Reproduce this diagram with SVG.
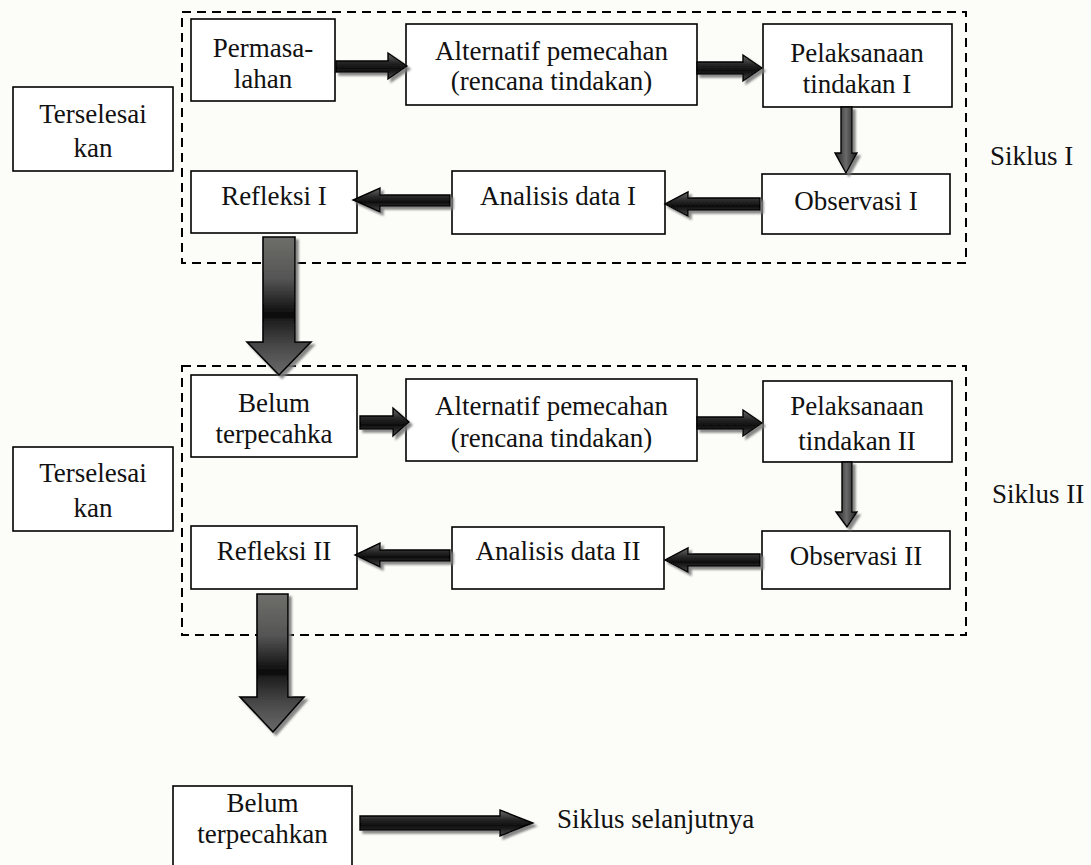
<svg xmlns="http://www.w3.org/2000/svg" width="1091" height="865" viewBox="0 0 1091 865">
<defs>
<style>
.box{fill:#ffffff;stroke:#000;stroke-width:1.6}
.cyc{fill:none;stroke:#000;stroke-width:2;stroke-dasharray:9,6}
.t{font-family:"Liberation Serif","Times New Roman",serif;font-size:27px;fill:#111}
.m{text-anchor:middle}
.ah{fill:url(#gh);stroke:#000;stroke-width:1.4;filter:url(#sh)}
.av{fill:url(#gv);stroke:#000;stroke-width:1.4;filter:url(#sh)}
.ab{fill:url(#gb);stroke:#000;stroke-width:1.6;filter:url(#sh)}
</style>
<linearGradient id="gh" x1="0" y1="0" x2="0" y2="1">
<stop offset="0" stop-color="#6a6a6a"/>
<stop offset="0.35" stop-color="#2a2a2a"/>
<stop offset="0.6" stop-color="#0d0d0d"/>
<stop offset="1" stop-color="#4a4a4a"/>
</linearGradient>
<linearGradient id="gv" x1="0" y1="0" x2="1" y2="0">
<stop offset="0" stop-color="#222"/>
<stop offset="0.5" stop-color="#6a6a6a"/>
<stop offset="1" stop-color="#1a1a1a"/>
</linearGradient>
<linearGradient id="gb" x1="0" y1="0" x2="0" y2="1">
<stop offset="0" stop-color="#6e6e6a"/>
<stop offset="0.3" stop-color="#555"/>
<stop offset="0.58" stop-color="#080808"/>
<stop offset="0.6" stop-color="#1e1e1e"/>
<stop offset="0.8" stop-color="#4a4a4a"/>
<stop offset="1" stop-color="#6a6a6a"/>
</linearGradient>
<filter id="sh" x="-20%" y="-20%" width="150%" height="150%">
<feDropShadow dx="3" dy="3" stdDeviation="0.8" flood-color="#7a7a7a" flood-opacity="0.9"/>
</filter>
</defs>
<rect x="0" y="0" width="1091" height="865" fill="#fcfcf8"/>

<g id="cycle1">
<rect class="cyc" x="182" y="12" width="784" height="251"/>
<text class="t" x="990" y="165">Siklus I</text>
</g>
<g id="cycle2">
<rect class="cyc" x="182" y="366" width="784" height="269"/>
<text class="t" x="992" y="503">Siklus II</text>
</g>

<g id="terselesaikan1">
<rect class="box" x="13" y="87" width="160" height="84"/>
<text class="t m" x="93" y="123">Terselesai</text>
<text class="t m" x="93" y="157">kan</text>
</g>
<g id="permasalahan">
<rect class="box" x="191" y="19" width="144" height="82"/>
<text class="t m" x="263" y="57">Permasa-</text>
<text class="t m" x="263" y="88">lahan</text>
</g>
<g id="alternatif1">
<rect class="box" x="406" y="24" width="291" height="81"/>
<text class="t m" x="551.5" y="60">Alternatif pemecahan</text>
<text class="t m" x="551.5" y="90">(rencana tindakan)</text>
</g>
<g id="pelaksanaan1">
<rect class="box" x="763" y="24" width="189" height="83"/>
<text class="t m" x="857" y="62">Pelaksanaan</text>
<text class="t m" x="857" y="93">tindakan I</text>
</g>
<g id="observasi1">
<rect class="box" x="762" y="174" width="188" height="60"/>
<text class="t m" x="856" y="210">Observasi I</text>
</g>
<g id="analisis1">
<rect class="box" x="452" y="171" width="213" height="63"/>
<text class="t m" x="558" y="205">Analisis data I</text>
</g>
<g id="refleksi1">
<rect class="box" x="191" y="171" width="166" height="62"/>
<text class="t m" x="274" y="205">Refleksi I</text>
</g>

<g id="terselesaikan2">
<rect class="box" x="13" y="447" width="160" height="84"/>
<text class="t m" x="93" y="482">Terselesai</text>
<text class="t m" x="93" y="517">kan</text>
</g>
<g id="belum1">
<rect class="box" x="191" y="375" width="166" height="82"/>
<text class="t m" x="274" y="412">Belum</text>
<text class="t m" x="274" y="443">terpecahka</text>
</g>
<g id="alternatif2">
<rect class="box" x="406" y="379" width="291" height="82"/>
<text class="t m" x="551.5" y="415">Alternatif pemecahan</text>
<text class="t m" x="551.5" y="447">(rencana tindakan)</text>
</g>
<g id="pelaksanaan2">
<rect class="box" x="763" y="381" width="189" height="81"/>
<text class="t m" x="857" y="415">Pelaksanaan</text>
<text class="t m" x="857" y="450">tindakan II</text>
</g>
<g id="observasi2">
<rect class="box" x="762" y="531" width="188" height="58"/>
<text class="t m" x="856" y="565">Observasi II</text>
</g>
<g id="analisis2">
<rect class="box" x="452" y="527" width="212" height="62"/>
<text class="t m" x="558" y="560">Analisis data II</text>
</g>
<g id="refleksi2">
<rect class="box" x="191" y="526" width="166" height="63"/>
<text class="t m" x="274" y="560">Refleksi II</text>
</g>

<g id="belum2">
<rect class="box" x="173" y="786" width="179" height="90"/>
<text class="t m" x="262.5" y="812">Belum</text>
<text class="t m" x="262.5" y="843">terpecahkan</text>
</g>
<g id="selanjutnya">
<text class="t" x="557" y="828">Siklus selanjutnya</text>
</g>

<g id="connectors">
<polygon class="ah" points="336,61 388,61 388,53 407,66 388,79 388,72 336,72"/>
<polygon class="ah" points="697,62 743,62 743,55 762,68 743,81 743,74 697,74"/>
<polygon class="av" points="841,107 852,107 852,153 857,153 846,173 835,153 841,153"/>
<polygon class="ah" points="760,198 688,198 688,192 665,204 688,216 688,210 760,210"/>
<polygon class="ah" points="450,195 380,195 380,188 353,200 380,212 380,206 450,206"/>
<polygon class="ab" points="263,237 295,237 295,342 311,342 279,375 247,342 263,342"/>

<polygon class="ah" points="360,416 393,416 393,408 409,422 393,436 393,429 360,429"/>
<polygon class="ah" points="697,417 743,417 743,410 762,423 743,436 743,429 697,429"/>
<polygon class="av" points="842,462 852,462 852,512 857,512 847,527 836,512 842,512"/>
<polygon class="ah" points="760,554 688,554 688,548 665,560 688,572 688,566 760,566"/>
<polygon class="ah" points="450,550 380,550 380,543 355,555 380,567 380,561 450,561"/>
<polygon class="ab" points="257,594 288,594 288,697 304,697 273,732 240,697 257,697"/>

<polygon class="ah" points="360,816 500,816 500,810 533,823 500,836 500,830 360,830"/>
</g>
</svg>
